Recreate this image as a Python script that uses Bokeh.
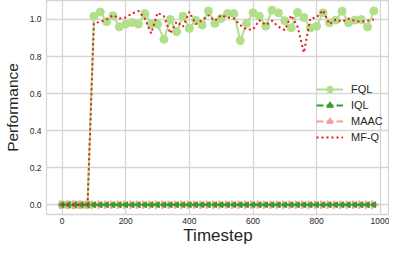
import math
from bokeh.plotting import figure
from bokeh.models import (Range1d, Legend, LegendItem, ColumnDataSource, FixedTicker,
                          CustomJSTickFormatter)
from bokeh.embed import file_html
from bokeh.resources import INLINE

timesteps = [0, 20, 40, 60, 80, 100, 120, 140, 160, 180, 200, 220, 240, 260, 280,
             300, 320, 340, 360, 380, 400, 420, 440, 460, 480, 500, 520, 540, 560,
             580, 600, 620, 640, 660, 680, 700, 720, 740, 760, 780, 800, 820, 840,
             860, 880, 900, 920, 940, 960, 980]

fql = [0, 0, 0, 0, 0,
       1.018, 1.041, 0.988, 1.02, 0.96, 0.975, 0.984, 0.975, 1.032, 0.975,
       0.975, 0.893, 1.0, 0.934, 1.018, 0.952, 0.996, 0.97, 1.046, 0.979,
       1.005, 1.032, 1.032, 0.886, 0.979, 1.036, 1.018, 0.964, 1.05, 1.036,
       0.993, 0.955, 1.038, 1.011, 0.955, 0.964, 1.036, 0.982, 0.996, 1.045,
       0.982, 0.996, 1.0, 0.96, 1.046]

iql = [0, 0, 0, 0, 0, 0, 0, 0, 0, 0, 0, 0, 0, 0, 0, 0, 0, 0, 0, 0, 0, 0, 0, 0, 0,
       0, 0, 0, 0, 0, 0, 0, 0, 0, 0, 0, 0, 0, 0, 0, 0, 0, 0, 0, 0, 0, 0, 0, 0, 0]

maac = [0, 0, 0, 0, 0, 0, 0, 0, 0, 0, 0, 0, 0, 0, 0, 0, 0, 0, 0, 0, 0, 0, 0, 0, 0,
        0, 0, 0, 0, 0, 0, 0, 0, 0, 0, 0, 0, 0, 0, 0, 0, 0, 0, 0, 0, 0, 0, 0, 0, 0]

mfq = [0, 0, 0, 0, 0,
       0.979, 0.988, 1.0, 1.023, 1.005, 1.011, 1.032, 1.046, 1.005, 0.925,
       1.036, 1.018, 0.925, 0.988, 0.961, 1.041, 0.975, 0.996, 1.023, 0.993,
       1.023, 1.011, 1.005, 0.97, 0.946, 0.946, 0.996, 0.97, 0.993, 0.961,
       0.943, 1.023, 0.961, 0.821, 1.005, 1.011, 1.05, 0.975, 1.0, 0.988,
       1.005, 0.993, 0.988, 0.993, 1.0]

x_ticks = [0, 200, 400, 600, 800, 1000]
y_ticks = [0.0, 0.2, 0.4, 0.6, 0.8, 1.0]
series_names = ["FQL", "IQL", "MAAC", "MF-Q"]
x_title = "Timestep"
y_title = "Performance"

FONT = "Liberation Sans"
TXT = "#262626"
GRID = "#d5d5d5"

src = ColumnDataSource(dict(x=timesteps, fql=fql, iql=iql, maac=maac, mfq=mfq))

p = figure(width=389, height=247, output_backend="svg", toolbar_location=None,
           x_range=Range1d(-49, 1029), y_range=Range1d(-0.0525, 1.1025),
           min_border_left=0, min_border_right=0, min_border_top=0, min_border_bottom=0)

p.background_fill_color = "white"
p.border_fill_color = "white"
p.outline_line_color = GRID
p.outline_line_width = 1.3

for ax in (p.xaxis[0], p.yaxis[0]):
    ax.axis_line_color = None
    ax.major_tick_line_color = None
    ax.minor_tick_line_color = None
    ax.major_tick_out = 0
    ax.major_tick_in = 0
    ax.minor_tick_out = 0
    ax.minor_tick_in = 0
    ax.major_label_text_font = FONT
    ax.major_label_text_font_size = "8.5px"
    ax.major_label_text_color = TXT
    ax.axis_label_text_font = FONT
    ax.axis_label_text_font_style = "normal"
    ax.axis_label_text_color = TXT

p.xaxis.axis_label_text_font_size = "17px"
p.yaxis.axis_label_text_font_size = "15.5px"
p.xaxis.ticker = FixedTicker(ticks=x_ticks)
p.yaxis.ticker = FixedTicker(ticks=y_ticks)
p.yaxis.formatter = CustomJSTickFormatter(code="return tick.toFixed(1);")
p.xaxis.axis_label = x_title
p.yaxis.axis_label = y_title
p.xaxis.major_label_standoff = 3
p.yaxis.major_label_standoff = 5
p.xaxis.axis_label_standoff = -1
p.yaxis.axis_label_standoff = 6

p.xgrid.grid_line_color = GRID
p.ygrid.grid_line_color = GRID
p.xgrid.grid_line_width = 1.3
p.ygrid.grid_line_width = 1.3

c_fql = "#b2df8a"
c_iql = "#33a02c"
c_maac = "#fb9a99"
c_mfq = "#e31a1c"

l_fql = p.line("x", "fql", source=src, line_color=c_fql, line_width=2)
s_fql = p.scatter("x", "fql", source=src, marker="circle", size=8,
                  fill_color=c_fql, line_color=c_fql)

l_maac = p.line("x", "maac", source=src, line_color=c_maac, line_width=2, line_dash="7 3")
s_maac = p.scatter("x", "maac", source=src, marker="triangle", size=8,
                   angle=-math.pi / 2, fill_color=c_maac, line_color=c_maac)

l_iql = p.line("x", "iql", source=src, line_color=c_iql, line_width=2, line_dash="7 3")
s_iql = p.scatter("x", "iql", source=src, marker="triangle", size=6,
                  angle=math.pi / 2, fill_color=c_iql, line_color=c_iql)

l_mfq = p.line("x", "mfq", source=src, line_color=c_mfq, line_width=2, line_dash="2 3")

legend = Legend(items=[
    LegendItem(label=series_names[0], renderers=[l_fql, s_fql]),
    LegendItem(label=series_names[1], renderers=[l_iql, s_iql]),
    LegendItem(label=series_names[2], renderers=[l_maac, s_maac]),
    LegendItem(label=series_names[3], renderers=[l_mfq]),
], location=(270, 69))
legend.border_line_color = None
legend.background_fill_alpha = 0.0
legend.label_text_font = FONT
legend.label_text_font_size = "11px"
legend.label_text_color = TXT
legend.glyph_width = 27
legend.glyph_height = 16
legend.label_height = 16
legend.label_standoff = 8
legend.spacing = 0
legend.padding = 0
legend.margin = 0
p.add_layout(legend)

open("out.html", "w").write(file_html(p, INLINE))
